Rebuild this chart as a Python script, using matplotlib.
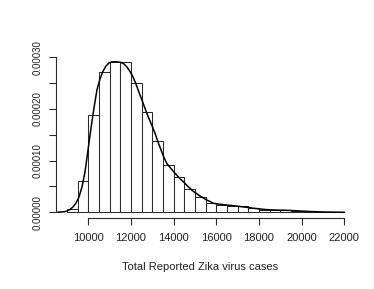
import matplotlib
matplotlib.use("Agg")
import matplotlib.pyplot as plt
from matplotlib.ticker import FixedLocator, FuncFormatter

plt.rcParams['font.family'] = ['Liberation Sans', 'DejaVu Sans']

# Histogram: left edges of 500-wide bins and their densities
bin_left = [9000, 9500, 10000, 10500, 11000, 11500, 12000, 12500, 13000, 13500,
            14000, 14500, 15000, 15500, 16000, 16500, 17000, 17500, 18000, 18500,
            19000, 19500, 20000, 20500, 21000, 21500]
bin_width = 500
density = [5.8e-6, 6.12e-5, 1.877e-4, 2.716e-4, 2.909e-4, 2.903e-4, 2.493e-4, 1.932e-4,
           1.374e-4, 9.06e-5, 6.74e-5, 4.47e-5, 2.96e-5, 1.80e-5, 1.41e-5, 1.28e-5,
           1.16e-5, 7.7e-6, 5.0e-6, 3.9e-6, 3.9e-6, 3.1e-6, 1.9e-6, 1.2e-6, 0.6e-6, 0.6e-6]

# Kernel density curve
kde_x = [8578, 8860, 9000, 9141, 9281, 9422, 9563, 9703, 9844, 9984, 10125, 10266,
         10406, 10547, 10688, 10828, 10969, 11109, 11250, 11391, 11531, 11672, 11813,
         11953, 12094, 12234, 12375, 12516, 12656, 12797, 12970, 13125, 13266, 13406,
         13547, 13688, 13828, 13969, 14141, 14297, 14453, 14625, 14766, 14906, 15078,
         15234, 15391, 15539, 15703, 15860, 16172, 16486, 16795, 17109, 17424, 17733,
         18047, 18361, 18670, 18984, 19298, 19608, 19922, 20391, 20860, 21330, 22000]
kde_y = [0.2e-6, 1.0e-6, 2.5e-6, 5.4e-6, 1.03e-5, 1.8e-5, 2.96e-5, 4.9e-5, 7.8e-5, 1.2e-4,
         1.63e-4, 2.02e-4, 2.37e-4, 2.58e-4, 2.73e-4, 2.83e-4, 2.89e-4, 2.91e-4, 2.913e-4,
         2.91e-4, 2.90e-4, 2.87e-4, 2.81e-4, 2.725e-4, 2.62e-4, 2.48e-4, 2.32e-4, 2.17e-4,
         2.01e-4, 1.86e-4, 1.69e-4, 1.53e-4, 1.36e-4, 1.21e-4, 1.06e-4, 9.4e-5, 8.7e-5,
         8.0e-5, 7.2e-5, 6.5e-5, 5.92e-5, 5.19e-5, 4.65e-5, 4.1e-5, 3.62e-5, 3.15e-5,
         2.8e-5, 2.4e-5, 2.1e-5, 1.74e-5, 1.55e-5, 1.41e-5, 1.28e-5, 1.12e-5, 9.7e-6,
         7.9e-6, 6.4e-6, 5.2e-6, 4.5e-6, 4.1e-6, 3.9e-6, 3.3e-6, 2.5e-6, 1.5e-6, 0.8e-6,
         0.4e-6, 0.0]

x_ticks = [10000, 12000, 14000, 16000, 18000, 20000, 22000]
y_ticks = [0.0, 0.00005, 0.0001, 0.00015, 0.0002, 0.00025, 0.0003]
y_labeled = [0.0, 0.0001, 0.0002, 0.0003]
xlabel = "Total Reported Zika virus cases"

W, H = 374, 289
fig = plt.figure(figsize=(W / 100, H / 100), dpi=100)
ax = fig.add_axes([55.9 / W, (H - 218.3) / H, (355.4 - 55.9) / W, (218.3 - 55.9) / H])

ax.bar(bin_left, density, width=bin_width, align='edge', facecolor='white',
       edgecolor='#2a2a2a', linewidth=0.75)
ax.plot(kde_x, kde_y, color='black', linewidth=1.1)

ax.set_xlim(8480, 22520)
ax.set_ylim(-0.0000116, 0.0003026)

for s in ('top', 'right'):
    ax.spines[s].set_visible(False)
ax.spines['left'].set_bounds(0, 0.0003)
ax.spines['bottom'].set_bounds(10000, 22000)
for s in ('left', 'bottom'):
    ax.spines[s].set_linewidth(0.8)
    ax.spines[s].set_color('#2a2a2a')

ax.xaxis.set_major_locator(FixedLocator(x_ticks))
ax.set_xticklabels([str(t) for t in x_ticks])
ax.yaxis.set_major_locator(FixedLocator(y_ticks))
ax.yaxis.set_major_formatter(FuncFormatter(
    lambda v, p: ("%.5f" % v) if any(abs(v - l) < 1e-9 for l in y_labeled) else ""))

ax.tick_params(axis='x', direction='out', length=5.2, width=0.8, color='#2a2a2a',
               labelsize=8, pad=5.5, labelcolor='#222222')
ax.tick_params(axis='y', direction='out', length=5.2, width=0.8, color='#2a2a2a',
               labelsize=7, pad=4.5, labelcolor='#222222')
for lab in ax.get_yticklabels():
    lab.set_rotation(90)
    lab.set_va('center')

fig.text(200 / W, 1 - 267 / H, xlabel, ha='center', va='center', fontsize=8,
         color='#222222')

fig.savefig("out.png", dpi=100)
